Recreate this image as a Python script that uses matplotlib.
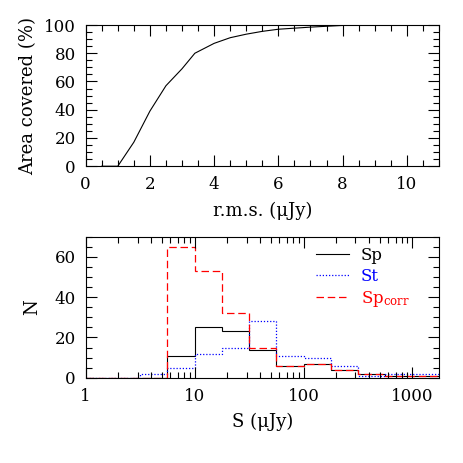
import matplotlib
matplotlib.use('Agg')
import matplotlib.pyplot as plt
from matplotlib.ticker import MultipleLocator, LogLocator, FixedFormatter, FixedLocator, NullFormatter

# top panel: cumulative area vs r.m.s.
rms = [0.5, 1.0, 1.5, 2.0, 2.5, 3.0, 3.4, 4.0, 4.5, 5.0, 5.5, 6.0, 7.0, 8.0, 9.0, 11.0]
area = [0, 0, 17, 39, 57, 69, 80, 87, 91, 93.5, 95.5, 97, 98.5, 99.7, 100, 100]

# bottom panel: source counts per flux bin (0.25 dex bins)
edges = [1.0, 1.78, 3.16, 5.62, 10.0, 17.8, 31.6, 56.2, 100.0, 178, 316, 562, 1000, 1778]
n_sp = [0, 0, 0, 11, 25, 23, 14, 6, 7, 4, 2, 1, 1]
n_st = [0, 0, 2, 5, 12, 15, 28, 11, 10, 6, 1, 2, 2]
n_corr = [0, 0, 0, 65, 53, 32, 14.6, 6, 7, 4, 1.7, 1, 1]

plt.rcParams['font.family'] = ['DejaVu Serif']
plt.rcParams['mathtext.fontset'] = 'dejavuserif'
plt.rcParams['font.size'] = 12

fig = plt.figure(figsize=(4.63, 4.63), dpi=100)
ax1 = fig.add_axes([0.185, 0.641, 0.763, 0.305])
ax2 = fig.add_axes([0.185, 0.184, 0.763, 0.305])

ax1.plot(rms, area, color='black', lw=0.8)
ax1.set_xlim(0, 11)
ax1.set_ylim(0, 100)
ax1.xaxis.set_major_locator(MultipleLocator(2))
ax1.xaxis.set_minor_locator(MultipleLocator(0.5))
ax1.yaxis.set_major_locator(MultipleLocator(20))
ax1.yaxis.set_minor_locator(MultipleLocator(5))
ax1.set_xlabel('r.m.s. (μJy)', labelpad=6, fontsize=13)
ax1.set_ylabel('Area covered (%)', labelpad=5, fontsize=13)

ax2.stairs(n_sp, edges, color='black', lw=0.8, label='Sp')
ax2.stairs(n_st, edges, color='blue', lw=0.9, linestyle=(0, (1, 1.5)), label='St')
ax2.stairs(n_corr, edges, color='red', lw=0.9, linestyle=(0, (6, 3)), label='Sp$_{\\rm corr}$')
ax2.set_xscale('log')
ax2.set_xlim(1, 1750)
ax2.set_ylim(0, 70)
ax2.xaxis.set_major_locator(FixedLocator([1, 10, 100, 1000]))
ax2.xaxis.set_major_formatter(FixedFormatter(['1', '10', '100', '1000']))
ax2.xaxis.set_minor_locator(LogLocator(base=10, subs=range(2, 10)))
ax2.xaxis.set_minor_formatter(NullFormatter())
ax2.yaxis.set_major_locator(MultipleLocator(20))
ax2.yaxis.set_minor_locator(MultipleLocator(5))
ax2.set_xlabel('S (μJy)', labelpad=6, fontsize=13)
ax2.set_ylabel('N', labelpad=10, fontsize=13)
ax2.legend(loc='upper right', bbox_to_anchor=(0.945, 1.0), frameon=False,
           labelcolor='linecolor', handlelength=2.0, handletextpad=0.7,
           labelspacing=0.25, borderaxespad=0.2, fontsize=12)

for ax in (ax1, ax2):
    ax.tick_params(which='both', direction='in', top=True, right=True, width=0.8, pad=7)
    ax.tick_params(which='major', length=8)
    ax.tick_params(which='minor', length=4)
    for s in ax.spines.values():
        s.set_linewidth(0.8)

plt.savefig('out.png', dpi=100)
